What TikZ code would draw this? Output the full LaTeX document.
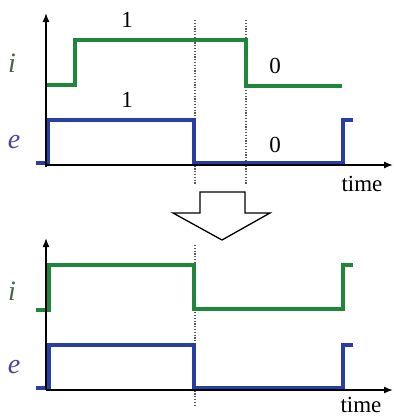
\documentclass[tikz,border=0pt]{standalone}
\usepackage{fontspec}
\setmainfont{Liberation Serif}
\usetikzlibrary{arrows.meta}
\definecolor{sigGreen}{RGB}{30,135,60}
\definecolor{sigBlue}{RGB}{40,62,165}
\definecolor{lblGreen}{RGB}{70,100,75}
\definecolor{lblBlue}{RGB}{85,65,155}
\tikzset{
  axis/.style={line width=1.4pt,-{Latex[length=9pt,width=7pt]}},
  wave/.style={line width=4.3pt,line join=miter,line cap=butt},
  marker/.style={gray!70!black,line width=1.2pt,dash pattern=on 1.2pt off 1.6pt},
  lbl/.style={inner sep=0pt,font=\fontsize{23}{25}\selectfont},
  sig/.style={inner sep=0pt,font=\fontsize{28}{30}\selectfont\itshape},
  bigarrow/.style={line width=1.3pt,line join=miter,fill=white}
}
\begin{document}
\begin{tikzpicture}[x=1pt,y=-1pt]
\useasboundingbox (0,0) rectangle (394,416);

% ---------- upper timing diagram ----------
\coordinate (o1) at (46,165);
\coordinate (ytop1) at (46,13);
\coordinate (xend1) at (393,165);
\draw[marker] (195,20) -- (195,185);
\draw[marker] (246,20) -- (246,185);
\draw[wave,sigGreen] (46,85) -- (75,85) -- (75,40) -- (246,40) -- (246,86) -- (342,86);
\draw[wave,sigBlue] (36,163) -- (48,163) -- (48,120) -- (194,120) -- (194,163) -- (343,163) -- (343,120) -- (353,120);
\draw[axis] (o1) -- (ytop1);
\draw[line width=1.4pt] (o1) -- ++(0,2);
\draw[axis] (o1) -- (xend1);
\node[lbl] (one1) at (127,20) {1};
\node[lbl] (one2) at (127,100) {1};
\node[lbl] (zero1) at (275,66) {0};
\node[lbl] (zero2) at (275,145) {0};
\node[sig,lblGreen] (i1) at (12,63) {i};
\node[sig,lblBlue] (e1) at (14,142) {e};
\node[lbl] (t1) at (362,184) {time};

% ---------- block arrow between the diagrams ----------
\draw[bigarrow] (200,192) -- (245,192) -- (245,213) -- (270,213) -- (222,240)
  -- (173,213) -- (200,213) -- cycle;

% ---------- lower timing diagram ----------
\coordinate (o2) at (46,390);
\coordinate (ytop2) at (46,238);
\coordinate (xend2) at (393,390);
\draw[marker] (195,245) -- (195,406);
\draw[wave,sigGreen] (36,310) -- (49,310) -- (49,265) -- (194,265) -- (194,309) -- (343,309) -- (343,265) -- (353,265);
\draw[wave,sigBlue] (36,388) -- (49,388) -- (49,345) -- (194,345) -- (194,388) -- (343,388) -- (343,345) -- (353,345);
\draw[axis] (o2) -- (ytop2);
\draw[axis] (o2) -- (xend2);
\node[sig,lblGreen] (i2) at (12,291) {i};
\node[sig,lblBlue] (e2) at (14,367) {e};
\node[lbl] (t2) at (361,405) {time};
\end{tikzpicture}
\end{document}
